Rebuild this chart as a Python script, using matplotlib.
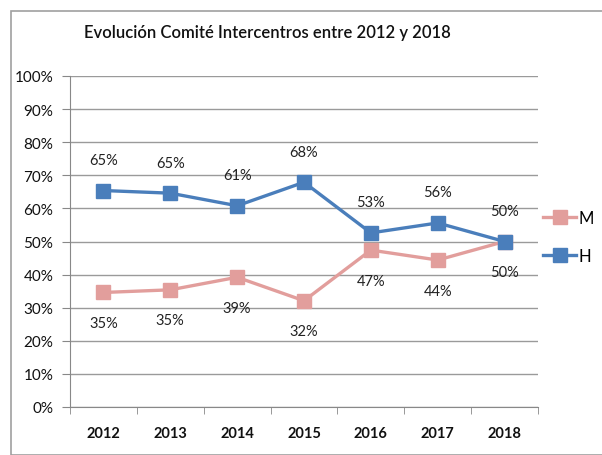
import matplotlib
matplotlib.use("Agg")
import matplotlib.pyplot as plt
from matplotlib.patches import Rectangle
from matplotlib.lines import Line2D

years = ["2012", "2013", "2014", "2015", "2016", "2017", "2018"]
H = [65.4, 64.6, 60.8, 67.9, 52.6, 55.6, 50.0]
M = [34.6, 35.4, 39.2, 32.1, 47.4, 44.4, 50.0]
yticks = [0, 10, 20, 30, 40, 50, 60, 70, 80, 90, 100]

blue = "#4A7EBB"
pink = "#E29E9C"
font = "Lato"

fig = plt.figure(figsize=(6.02, 4.56), dpi=100)
fig.patches.append(Rectangle((11/602, 0), 1, 1 - 12/456, transform=fig.transFigure,
                             fill=False, edgecolor="#A0A0A0", linewidth=1.2))
ax = fig.add_axes([70/602, 48/456, 468/602, 331/456])

x = list(range(len(years)))
ax.plot(x, M, color=pink, lw=2.4, marker="s", ms=10, label="M", zorder=3)
ax.plot(x, H, color=blue, lw=2.4, marker="s", ms=10, label="H", zorder=4)

for i, v in enumerate(H):
    ax.annotate(f"{v:.0f}%", (i, v), xytext=(0, 22), textcoords="offset points",
                ha="center", va="center", fontsize=10.5, family=font, color="#222222")
for i, v in enumerate(M):
    ax.annotate(f"{v:.0f}%", (i, v), xytext=(0, -22), textcoords="offset points",
                ha="center", va="center", fontsize=10.5, family=font, color="#222222")

ax.set_xlim(-0.5, len(years) - 0.5)
ax.set_ylim(0, 100)
ax.set_yticks(yticks)
ax.set_yticklabels([f"{t}%" for t in yticks], family=font, fontsize=11, color="#111111")
ax.set_xticks(x)
ax.set_xticklabels(years, family=font, fontsize=10.5, fontweight="bold", color="#111111")
ax.set_xticks([i - 0.5 for i in range(len(years) + 1)], minor=True)
ax.tick_params(axis="x", which="major", length=0, pad=14)
ax.tick_params(axis="x", which="minor", length=5, color="#888888", direction="out")
ax.tick_params(axis="y", length=6, color="#888888", direction="out", pad=6)
ax.grid(axis="y", color="#9A9A9A", lw=1)
ax.set_axisbelow(True)
for s in ["top", "right"]:
    ax.spines[s].set_visible(False)
for s in ["left", "bottom"]:
    ax.spines[s].set_color("#888888")

fig.text(267/602, 1 - 33/456, "Evolución Comité Intercentros entre 2012 y 2018",
         ha="center", va="center", fontsize=12, family=font, color="#111111",
         fontweight="semibold")

handles = [Line2D([], [], color=pink, lw=2.4, marker="s", ms=10),
           Line2D([], [], color=blue, lw=2.4, marker="s", ms=10)]
fig.legend(handles, ["M", "H"], loc="center left", bbox_to_anchor=(543/602, 1 - 238/456),
           frameon=False, prop={"family": font, "size": 12}, handlelength=2.0,
           handletextpad=0.15, labelspacing=1.3, borderaxespad=0, borderpad=0)

fig.savefig("out.png", dpi=100)
